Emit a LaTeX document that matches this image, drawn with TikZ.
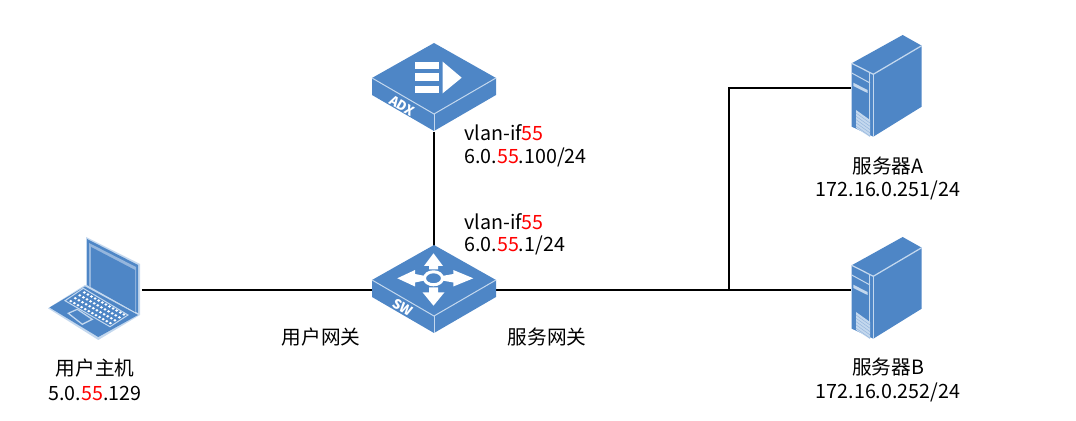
\documentclass[tikz,border=0pt]{standalone}
\usepackage{fontspec}
\setmainfont{Noto Sans CJK SC}
\usetikzlibrary{calc}

\definecolor{iconblue}{HTML}{4E86C6}
\definecolor{iconline}{HTML}{C4D8EE}
\newcommand{\rd}[1]{\textcolor{red}{#1}}

\tikzset{
	link/.style={line width=0.03cm, black},
	iconbox/.style={inner sep=0pt, minimum width=#1*0.02cm, minimum height=1.76cm},
	lbl/.style={inner sep=0pt, font=\fontsize{11.2}{13}\selectfont},
	lblleft/.style={lbl, anchor=west},
	facelabel/.style={white, inner sep=0pt, rotate=-30, font=\fontsize{7.5}{8}\selectfont\bfseries},
	pics/boxbody/.style={code={
		\fill [iconblue] (0,-45) -- (62,-10) -- (62,7) -- (0,43) -- (-62,7) -- (-62,-10) -- cycle;
		\draw [iconline, line width=0.02cm] (-62,-10) -- (0,26) -- (62,-10);
		\draw [iconline, line width=0.02cm] (0,26) -- (0,43);
	}},
	pics/adxmark/.style={code={
		\foreach \y in {-26.3,-14.7,-2.3}
			\fill [white] (-19,\y) rectangle (5,\y+7.6);
		\fill [white] (8.7,-26.3) -- (27.7,-10.3) -- (8.7,5.3) -- cycle;
		\node [facelabel] (adxtag) at (-32,18) {ADX};
	}},
	pics/swmark/.style={code={
		\draw [white, line width=0.06cm] (-0.5,-11.7) ellipse (9 and 6.5);
		% up, down, left and right arrows
		\fill [white] (-0.5,-36.7) -- (-10,-24) -- (-5,-24) -- (-5,-20.5) -- (4,-20.5) -- (4,-24) -- (9,-24) -- cycle;
		\fill [white] (-0.5,15.7) -- (-11.5,2.3) -- (-5,2.3) -- (-5,-2.5) -- (4,-2.5) -- (4,2.3) -- (10.5,2.3) -- cycle;
		\fill [white] (-36.7,-11.7) -- (-19,-20) -- (-19,-16) -- (-9,-14) -- (-9,-9.5) -- (-19,-7.5) -- (-19,-3.5) -- cycle;
		\fill [white] (39.3,-11.7) -- (19.3,-20) -- (19.3,-16) -- (8,-14) -- (8,-9.5) -- (19.3,-7.5) -- (19.3,-3.5) -- cycle;
		\node [facelabel] (swtag) at (-31,17) {SW};
	}},
	pics/laptopicon/.style={code={
		% lid
		\fill [iconline] (-9,-53) -- (45,-26) -- (45,25) -- (-9,-4) -- cycle;
		\fill [iconblue] (-8,-51) -- (43,-25) -- (43,23) -- (-8,-5) -- cycle;
		\fill [iconblue!60!white] (-6,-47) -- (41,-23) -- (41,22) -- (-6,-4) -- cycle;
		\fill [iconblue] (-4,-43) -- (40,-20) -- (40,22) -- (-4,-3) -- cycle;
		% base
		\fill [iconline] (-47,18.3) -- (-10,-5) -- (45,25) -- (3.3,50) -- cycle;
		\fill [iconblue] (-45.5,17.5) -- (-10,-3.5) -- (43,25) -- (3.3,47) -- cycle;
		\draw [iconline, line width=0.02cm] (-30,10.7) -- (-11.7,-1.7) -- (33,25) -- (15,36.7) -- cycle;
		% keys
		\foreach \i in {0,1,2,3}
			\foreach \j in {0,...,11}
				\fill [white] ($(-10.7,2.5)+\j*(3.6,2)+\i*(-4.5,2.9)$) ellipse (1.6 and 1.3);
		% touch pad
		\draw [iconline, line width=0.025cm] (-26.7,23.3) -- (-17.7,19.3) -- (-2.7,29.3) -- (-12.7,34.3) -- cycle;
	}},
	pics/servericon/.style={code={
		\fill [iconblue] (16.7,-53) -- (35.7,-42.3) -- (35.7,18.7) -- (-12.7,48.7) -- (-34.3,38.7) -- (-34.3,-24.7) -- cycle;
		\draw [iconline, line width=0.025cm] (-34.3,-24.7) -- (-12.7,-13.7) -- (35.7,-42.3);
		\draw [iconline, line width=0.03cm] (-12.7,-13.7) -- (-12.7,48.7);
		\draw [iconline, line width=0.03cm] (-16.5,-15.5) -- (-16.5,47);
		\draw [iconline, line width=0.02cm] (-34.3,-15) -- (-16,-5);
		% disk slot
		\fill [iconline] (-32.7,-5.3) -- (-18.5,2) -- (-18.5,5) -- (-32.7,-2) -- cycle;
		% vent
		\fill [iconline] (-30,22) -- (-16,32) -- (-16,49) -- (-30,40) -- cycle;
		\foreach \k in {0,1,2,3,4}
			\draw [iconblue!60!white, line width=0.01cm] (-30,25+\k*3.3) -- (-16,35+\k*3.3);
	}},
}

\begin{document}
\begin{tikzpicture}[x=0.02cm, y=-0.02cm]
	\useasboundingbox (0,0) rectangle (1076,421);
	\node [iconbox=124] (adx) at (434,88) {};
	\node [iconbox=124] (sw) at (434,290) {};
	\node [iconbox=93] (laptop) at (95,290) {};
	\node [iconbox=70] (serverA) at (886,88) {};
	\node [iconbox=70] (serverB) at (886,290) {};
	\coordinate (junc) at (729,290);

	\draw [link] (adx) -- (sw);
	\draw [link] (laptop) -- (sw);
	\draw [link] (sw) -- (serverB);
	\draw [link] (junc) |- (serverA);

	\pic at (adx) {boxbody};
	\pic at (adx) {adxmark};
	\pic at (sw) {boxbody};
	\pic at (sw) {swmark};
	\pic at (laptop) {laptopicon};
	\pic at (serverA) {servericon};
	\pic at (serverB) {servericon};

	\node [lblleft] (adxvlan) at (464,133) {vlan-if\rd{55}};
	\node [lblleft] (adxip) at (464,157) {6.0.\rd{55}.100/24};
	\node [lblleft] (swvlan) at (464,222) {vlan-if\rd{55}};
	\node [lblleft] (swip) at (464,245) {6.0.\rd{55}.1/24};
	\node [lbl] (usergw) at (321,337) {用户网关};
	\node [lbl] (servgw) at (547,337) {服务网关};
	\node [lbl] (hostname) at (95,368) {用户主机};
	\node [lbl] (hostip) at (95,393) {5.0.\rd{55}.129};
	\node [lbl] (nameA) at (888,166) {服务器A};
	\node [lbl] (ipA) at (888,190) {172.16.0.251/24};
	\node [lbl] (nameB) at (888,367) {服务器B};
	\node [lbl] (ipB) at (888,392) {172.16.0.252/24};
\end{tikzpicture}
\end{document}
